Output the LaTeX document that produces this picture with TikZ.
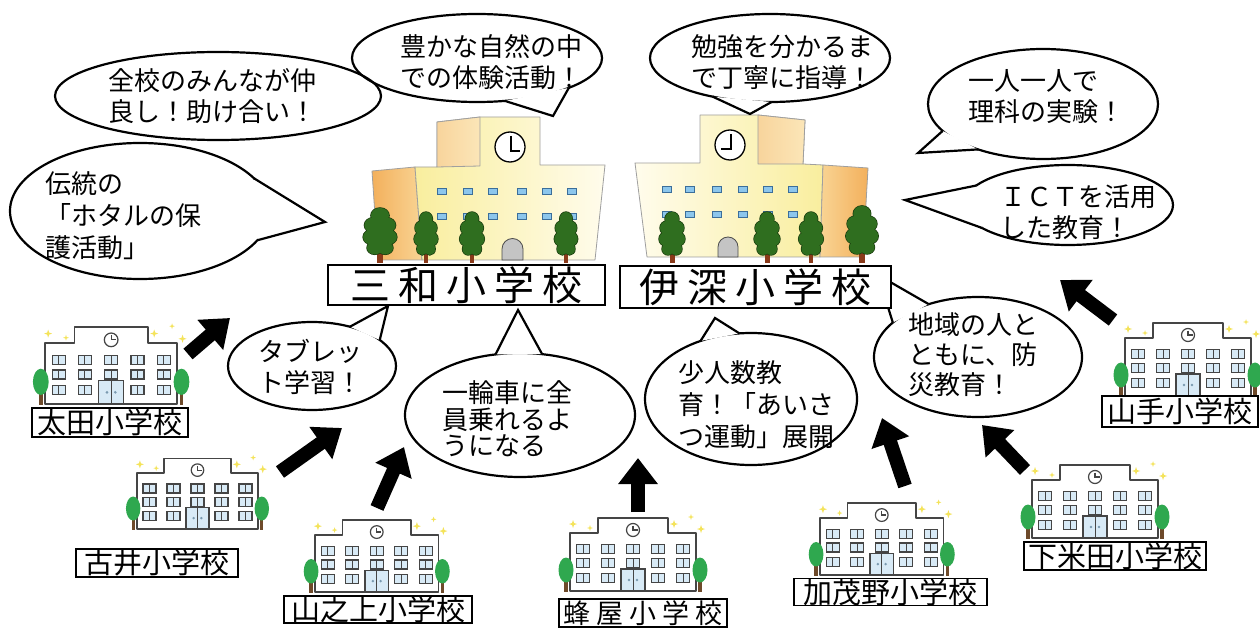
\documentclass[tikz,border=0pt]{standalone}
\usepackage{fontspec}
\setmainfont{Noto Sans CJK JP}
\usetikzlibrary{arrows.meta,shapes.geometric}

\definecolor{bodyyel}{HTML}{F9EE9E}
\definecolor{bodylight}{HTML}{FFFCEC}
\definecolor{wingA}{HTML}{F3B05C}
\definecolor{wingB}{HTML}{F9D494}
\definecolor{towerA}{HTML}{F8D49C}
\definecolor{towerB}{HTML}{FBE6B8}
\definecolor{winfill}{HTML}{8CC6EC}
\definecolor{winline}{HTML}{3B6E9A}
\definecolor{doorgray}{HTML}{C4C4C4}
\definecolor{treegreen}{HTML}{2F6E1F}
\definecolor{treeline}{HTML}{1A3D0E}
\definecolor{trunk}{HTML}{8A3A1A}
\definecolor{smgreen}{HTML}{2FA84F}
\definecolor{smtrunk}{HTML}{6E4A2A}
\definecolor{smline}{HTML}{454545}
\definecolor{smwin}{HTML}{D8EAF6}
\definecolor{smdot}{HTML}{7A9AB0}
\definecolor{sparkcol}{HTML}{F4E35A}

\tikzset{
  bubble/.style={ellipse, draw, line width=2.2pt, inner sep=0pt, outer sep=0pt},
  btext/.style={align=left, inner sep=0pt, font=\fontsize{26}{31}\selectfont},
  tailline/.style={line width=2.2pt, line join=miter},
  namebox/.style={draw, fill=white, line width=1.3pt, inner sep=0pt, outer sep=0pt},
  bigname/.style={namebox, font=\fontsize{40}{40}\selectfont},
  smallname/.style={namebox, font=\fontsize{29}{29}\selectfont},
  bigarrow/.style={line width=14pt, -{Triangle[length=26pt,width=38pt]}},
  winbig/.style={fill=winfill, draw=winline, line width=1pt},
  wall/.style={draw=gray!75, line width=0.8pt, line join=round},
  spark/.pic={\fill[sparkcol] (0,-4) -- (1,-1) -- (4,0) -- (1,1) -- (0,4) -- (-1,1) -- (-4,0) -- (-1,-1) -- cycle;},
  pane/.pic={\draw[smline, line width=1.3pt, fill=smwin] (-6.5,-4.5) rectangle (6.5,4.5);
             \draw[smline, line width=1pt] (0,-4.5) -- (0,4.5);},
  bigtree/.pic={
    \fill[trunk] (-2.5,-12) rectangle (2.5,0);
    \path[draw=treeline, line width=1.4pt, fill=treegreen]
      (0,-44) circle (7pt) (-5,-35) circle (7pt) (5,-35) circle (7pt)
      (-6,-24) circle (7pt) (6,-24) circle (7pt) (-4,-14) circle (6pt) (4,-14) circle (6pt);
    \fill[treegreen]
      (0,-44) circle (7pt) (-5,-35) circle (7pt) (5,-35) circle (7pt)
      (-6,-24) circle (7pt) (6,-24) circle (7pt) (-4,-14) circle (6pt) (4,-14) circle (6pt)
      (0,-29) ellipse (7pt and 14pt);
  },
  smallschool/.pic={
    \foreach \sx/\sy/\ss in {3/-9/1, 20/-5/0.7, 104/-9/1, 121/-16/0.7, 131/-4/1}
      \pic[scale=\ss] at (\sx,\sy) {spark};
    \draw[smline, line width=1.7pt, fill=white, line join=round]
      (0,58) -- (0,0) -- (28,0) -- (28,-15) -- (98,-15) -- (98,0) -- (126,0) -- (126,58) -- cycle;
    \draw[smline, line width=1.2pt, fill=white] (63,-3) circle (6.5pt);
    \draw[smline, line width=1.2pt] (63,-7.5) -- (63,-3) -- (67.5,-3);
    \foreach \wx in {13,38,63,88,113} \foreach \wy in {16,30} \pic at (\wx,\wy) {pane};
    \foreach \wx in {13,38,88,113} \pic at (\wx,45) {pane};
    \draw[smline, line width=1.2pt, fill=smwin] (51,36) rectangle (75,58);
    \draw[smline, line width=0.9pt] (63,36) -- (63,58);
    \fill[smdot] (59,47) circle (1.4pt) (67,47) circle (1.4pt);
    \foreach \tx in {-4,130} {
      \fill[smtrunk] (\tx-1.7,44) rectangle (\tx+1.7,59);
      \fill[smgreen] (\tx,37) ellipse (7.5pt and 12.5pt);
    }
  }
}

% tail of a speech bubble: node, border angle, tip, border angle
\newcommand\bubbletail[4]{%
  \fill[white] (#1.#2) -- (#3) -- (#1.#4) -- cycle;
  \draw[tailline] (#1.#2) -- (#3) -- (#1.#4);}

\begin{document}
\begin{tikzpicture}[x=1pt,y=-1pt]
\useasboundingbox (0,0) rectangle (1260,628);
\fill[white] (0,0) rectangle (1260,628);

% ---------- Sanwa school building ----------
\shade[wall, left color=wingA, right color=wingB] (372,171) -- (415,167) -- (422,260) -- (378,260) -- cycle;
\shade[wall, left color=bodyyel, right color=bodylight]
  (415,167) -- (437,167) -- (437,122) -- (480,117) -- (540,117) -- (540,165)
  -- (605,165) -- (595,260) -- (422,260) -- cycle;
\shade[wall, left color=towerA, right color=towerB] (437,122) -- (480,117) -- (480,166) -- (437,167) -- cycle;
\draw[line width=1.3pt, fill=white] (510,147) circle (15pt);
\draw[line width=2pt] (511,136) -- (511,151) -- (520,151);
\foreach \x in {442,468,493,522,547,572} \foreach \y in {192,217}
  \draw[winbig] (\x-4.5,\y-3) rectangle (\x+4.5,\y+3);
\draw[fill=doorgray, draw=gray!60!black, line width=0.8pt]
  (502,260) -- (502,249) arc[start angle=180, end angle=360, radius=10.5] -- (523,260) -- cycle;
\pic[xscale=1.3, yscale=1.08] at (380,263) {bigtree};
\pic[xscale=0.92] at (426,263) {bigtree};
\pic[xscale=0.95] at (472,263) {bigtree};
\pic[xscale=0.9] at (566,263) {bigtree};

% ---------- Ibuka school building ----------
\shade[wall, left color=bodylight, right color=bodyyel]
  (635,163) -- (700,163) -- (700,115) -- (758,115) -- (805,120) -- (803,164)
  -- (823,165) -- (820,257) -- (647,257) -- cycle;
\shade[wall, left color=towerA, right color=towerB] (758,115) -- (805,120) -- (803,164) -- (758,164) -- cycle;
\shade[wall, left color=wingB, right color=wingA] (823,165) -- (868,168) -- (863,257) -- (820,257) -- cycle;
\draw[line width=1.3pt, fill=white] (730,145) circle (15pt);
\draw[line width=2pt] (731,134) -- (731,149) -- (721,149);
\foreach \x in {667,690,717,743,768,793} \foreach \y in {190,215}
  \draw[winbig] (\x-4.5,\y-3) rectangle (\x+4.5,\y+3);
\draw[fill=doorgray, draw=gray!60!black, line width=0.8pt]
  (718,257) -- (718,247) arc[start angle=180, end angle=360, radius=10] -- (738,257) -- cycle;
\pic[xscale=1.0] at (672,263) {bigtree};
\pic[xscale=1.0] at (767,263) {bigtree};
\pic[xscale=0.95] at (811,263) {bigtree};
\pic[xscale=1.25, yscale=1.12] at (862,263) {bigtree};

% ---------- small schools ----------
\pic[scale=1.05] (ota)  at (45,343)  {smallschool};
\pic[scale=0.96] (furui) at (137,473) {smallschool};
\pic[scale=0.98] (yamanoue) at (315,535) {smallschool};
\pic[scale=1.0]  (hachiya) at (570,533) {smallschool};
\pic[scale=0.98] (kamono) at (820,518) {smallschool};
\pic[scale=1.0]  (shimoyoneda) at (1032,480) {smallschool};
\pic[scale=1.0]  (yamate) at (1125,338) {smallschool};

% ---------- arrows ----------
\coordinate (a1s) at (188,354);  \coordinate (a1e) at (230,318);
\coordinate (a2s) at (280,472);  \coordinate (a2e) at (342,428);
\coordinate (a3s) at (377,508);  \coordinate (a3e) at (404,447);
\coordinate (a4s) at (638,512);  \coordinate (a4e) at (638,458);
\coordinate (a5s) at (905,486);  \coordinate (a5e) at (882,418);
\coordinate (a6s) at (1025,470); \coordinate (a6e) at (982,425);
\coordinate (a7s) at (1113,320); \coordinate (a7e) at (1060,280);
\foreach \i in {1,...,7} \draw[bigarrow] (a\i s) -- (a\i e);

% ---------- speech bubbles ----------
\node[bubble, minimum width=326pt, minimum height=88pt] (b1) at (218,96) {};
\node[btext] (t1) at (212,96) {全校のみんなが仲\\良し！助け合い！};

\node[bubble, minimum width=250pt, minimum height=88pt] (b2) at (477,58) {};
\node[btext] (t2) at (491,62) {豊かな自然の中\\での体験活動！};
\coordinate (tip2) at (553,116);
\bubbletail{b2}{-57}{tip2}{-18}

\node[bubble, minimum width=240pt, minimum height=88pt] (b3) at (770,58) {};
\node[btext] (t3) at (782,62) {勉強を分かるま\\で丁寧に指導！};
\coordinate (tip3) at (750,114);
\bubbletail{b3}{-146}{tip3}{-88}

\node[bubble, minimum width=230pt, minimum height=110pt] (b4) at (1043,104) {};
\node[btext] (t4) at (1046,97) {一人一人で\\理科の実験！};
\coordinate (tip4) at (918,153);
\bubbletail{b4}{-165}{tip4}{-145}

\node[bubble, minimum width=210pt, minimum height=80pt] (b5) at (1068,205) {};
\node[btext] (t5) at (1078,212) {ＩＣＴを活用\\した教育！};
\coordinate (tip5) at (905,200);
\bubbletail{b5}{168}{tip5}{-165}

\node[bubble, minimum width=260pt, minimum height=136pt] (b6) at (140,211) {};
\node[btext, font=\fontsize{26}{32}\selectfont] (t6) at (123,216) {伝統の\\「ホタルの保\\護活動」};
\coordinate (tip6) at (325,222);
\bubbletail{b6}{16}{tip6}{-14}

\node[bubble, minimum width=168pt, minimum height=88pt] (b7) at (312,366) {};
\node[btext] (t7) at (310,367) {タブレッ\\ト学習！};
\coordinate (tip7) at (388,306);
\bubbletail{b7}{46}{tip7}{21}

\node[bubble, minimum width=230pt, minimum height=124pt] (b8) at (520,415) {};
\node[btext, font=\fontsize{26}{26.5}\selectfont] (t8) at (507,419) {一輪車に全\\員乗れるよ\\うになる};
\coordinate (tip8) at (518,310);
\bubbletail{b8}{112}{tip8}{70}

\node[bubble, minimum width=212pt, minimum height=132pt] (b9) at (751,399) {};
\node[btext, font=\fontsize{26}{32}\selectfont] (t9) at (756,405) {少人数教\\育！「あいさ\\つ運動」展開};
\coordinate (tip9) at (715,318);
\bubbletail{b9}{131}{tip9}{100}

\node[bubble, minimum width=208pt, minimum height=120pt] (b10) at (978,357) {};
\node[btext, font=\fontsize{26}{30}\selectfont] (t10) at (973,355) {地域の人と\\ともに、防\\災教育！};
\coordinate (tip10) at (878,275);
\bubbletail{b10}{158}{tip10}{133}

% ---------- school names ----------
\node[bigname, minimum width=277pt, minimum height=40pt] (n1) at (466.5,285)
  {三\hspace{8pt}和\hspace{8pt}小\hspace{8pt}学\hspace{8pt}校};
\node[bigname, minimum width=271pt, minimum height=42pt] (n2) at (755.5,287)
  {伊\hspace{8pt}深\hspace{8pt}小\hspace{8pt}学\hspace{8pt}校};
\node[smallname, minimum width=156pt, minimum height=29pt] (n3) at (110,422.5) {太田小学校};
\node[smallname, minimum width=162pt, minimum height=28pt] (n4) at (157,563) {古井小学校};
\node[smallname, minimum width=188pt, minimum height=27pt] (n5) at (378,609.5) {山之上小学校};
\node[namebox, font=\fontsize{27}{27}\selectfont, minimum width=168pt, minimum height=28pt] (n6) at (643,613)
  {蜂\hspace{6pt}屋\hspace{6pt}小\hspace{6pt}学\hspace{6pt}校};
\node[smallname, minimum width=193pt, minimum height=26pt] (n7) at (890.5,592) {加茂野小学校};
\node[smallname, minimum width=182pt, minimum height=28pt] (n8) at (1115,556) {下米田小学校};
\node[smallname, minimum width=156pt, minimum height=31pt] (n9) at (1180,411.5) {山手小学校};
\end{tikzpicture}
\end{document}
